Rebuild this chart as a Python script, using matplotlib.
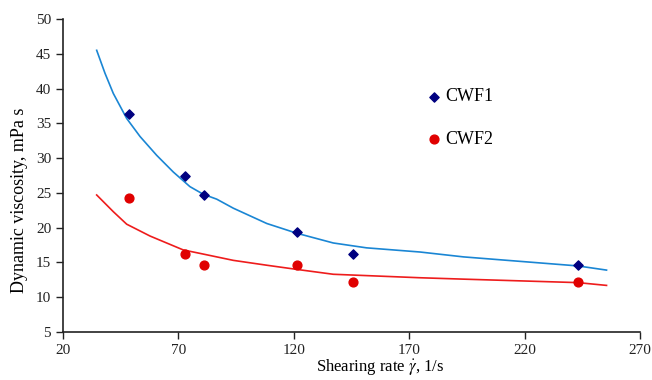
import numpy as np
import matplotlib.pyplot as plt

plt.rcParams['font.family'] = ['Liberation Serif', 'DejaVu Serif']
plt.rcParams['mathtext.fontset'] = 'stix'

# measured points
shear_rate = [48.6, 72.9, 81.0, 121.5, 145.8, 243.0]
cwf1 = [36.3, 27.4, 24.7, 19.4, 16.2, 14.6]
cwf2 = [24.2, 16.2, 14.6, 14.6, 12.2, 12.2]

# model curves
fit1_x = [34.6, 38.2, 41.8, 47.6, 53.4, 60.6, 67.8, 75.0, 80.8, 86.6, 93.8,
          108.3, 121.3, 137.1, 151.5, 174.7, 193.5, 243.1, 255.5]
fit1_y = [45.5, 42.2, 39.3, 35.7, 33.1, 30.4, 28.0, 25.9, 24.8, 24.1, 22.8,
          20.6, 19.2, 17.8, 17.1, 16.5, 15.8, 14.5, 13.9]
fit2_x = [34.6, 41.8, 47.6, 57.7, 72.1, 79.4, 86.6, 93.8, 108.3, 121.3,
          137.1, 174.7, 193.5, 243.1, 255.5]
fit2_y = [24.7, 22.3, 20.5, 18.8, 16.8, 16.3, 15.8, 15.3, 14.6, 14.0,
          13.3, 12.8, 12.6, 12.1, 11.7]

fig = plt.figure(figsize=(6.52, 3.80), dpi=100)
ax = fig.add_axes([0.0966, 0.1263, 0.885, 0.8237])

ax.plot(fit1_x, fit1_y, '-', color='#1a86d4', lw=1.2)
ax.plot(fit2_x, fit2_y, '-', color='#ee1c1c', lw=1.2)
ax.scatter(shear_rate, cwf1, marker='D', s=22, color='#000080', zorder=3, label='CWF1')
ax.scatter(shear_rate, cwf2, marker='o', s=40, color='#e00000', zorder=3, label='CWF2')

ax.set_xlim(20, 270)
ax.set_ylim(5, 50)
ax.set_xticks(np.arange(20, 271, 50))
ax.set_yticks(np.arange(5, 51, 5))
ax.tick_params(labelsize=11, direction='out', length=5, width=1, colors='#222222')
for s in ['top', 'right']:
    ax.spines[s].set_visible(False)
for s in ['left', 'bottom']:
    ax.spines[s].set_linewidth(1.2)
    ax.spines[s].set_color('#222222')

ax.set_xlabel(r'Shearing rate $\dot{\gamma}$, 1/s', fontsize=12)
ax.xaxis.set_label_coords(0.549, -0.08)
ax.set_ylabel('Dynamic viscosity, mPa s', fontsize=13)
ax.yaxis.set_label_coords(-0.06, 0.42)

ax.legend(loc='upper left', bbox_to_anchor=(0.6, 0.83), frameon=False,
          fontsize=13, handletextpad=0.1, labelspacing=1.4, handlelength=1.0)

fig.savefig('out.png', dpi=100)
